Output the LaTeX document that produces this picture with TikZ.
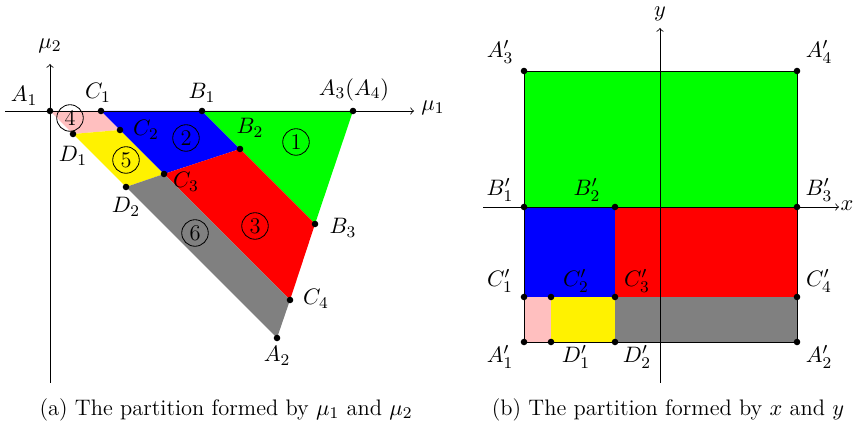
\documentclass[tikz,border=0pt]{standalone}
\begin{document}
\begin{tikzpicture}[x=0.49pt,y=-0.49pt,
  every node/.append style={font=\fontsize{11}{13}\selectfont},
  dot/.style={circle,fill=black,inner sep=0pt,minimum size=3.2pt},
  num/.style={circle,draw=black,inner sep=0pt,minimum size=13pt,thin},
  axis/.style={->,thin}]
\useasboundingbox (0,0) rectangle (854,425);
% ---------- left panel ----------
\coordinate (A1) at (50,111);
\coordinate (C1) at (101,111);
\coordinate (B1) at (202,111);
\coordinate (A3) at (353,111);
\coordinate (B2) at (240,149);
\coordinate (B3) at (315,224);
\coordinate (C4) at (290,300);
\coordinate (A2) at (277,338);
\coordinate (D2) at (126,187);
\coordinate (C3) at (164,174);
\coordinate (C2) at (120,130);
\coordinate (D1) at (73,134);
\fill[pink] (A1) -- (C1) -- (C2) -- (D1) -- cycle;
\fill[yellow] (D1) -- (C2) -- (C3) -- (D2) -- cycle;
\fill[blue] (C1) -- (B1) -- (B2) -- (C3) -- (C2) -- cycle;
\fill[green] (B1) -- (A3) -- (B3) -- (B2) -- cycle;
\fill[red] (C3) -- (B2) -- (B3) -- (C4) -- cycle;
\fill[gray] (D2) -- (C3) -- (C4) -- (A2) -- cycle;
\coordinate (m2b) at (50,383);
\coordinate (m2t) at (50,64);
\coordinate (m1l) at (5,111);
\coordinate (m1r) at (414,111);
\draw[axis] (m2b) -- (m2t);
\draw[axis] (m1l) -- (m1r);
\node (lm2) at (50,46) {$\mu_2$};
\node (lm1) at (433,108) {$\mu_1$};
\foreach \p in {A1,C1,B1,A3,B2,B3,C4,A2,D2,C3,C2,D1} \node[dot] at (\p) {};
\node (lA1) at (24,96) {$A_1$};
\node (lC1) at (98,93) {$C_1$};
\node (lB1) at (202,93) {$B_1$};
\node (lA3) at (354,90) {$A_3(A_4)$};
\node (lB2) at (250,128) {$B_2$};
\node (lC2) at (146,130) {$C_2$};
\node (lD1) at (73,156) {$D_1$};
\node (lC3) at (186,182) {$C_3$};
\node (lD2) at (126,207) {$D_2$};
\node (lB3) at (343,228) {$B_3$};
\node (lC4) at (316,299) {$C_4$};
\node (lA2) at (277,356) {$A_2$};
\node[num] (n1) at (296,142) {1};
\node[num] (n2) at (186,138) {2};
\node[num] (n3) at (255,226) {3};
\node[num] (n4) at (70,118) {4};
\node[num] (n5) at (126,160) {5};
\node[num] (n6) at (195,233) {6};
\node (capa) at (226,410) {(a) The partition formed by $\mu_1$ and $\mu_2$};
% ---------- right panel ----------
\coordinate (pA3) at (524,71);
\coordinate (pA4) at (797,71);
\coordinate (pB1) at (524,207);
\coordinate (pB2) at (615,207);
\coordinate (pB3) at (797,207);
\coordinate (pC1) at (524,297);
\coordinate (pC2) at (551,297);
\coordinate (pC3) at (615,297);
\coordinate (pC4) at (797,297);
\coordinate (pA1) at (524,342);
\coordinate (pD1) at (551,342);
\coordinate (pD2) at (615,342);
\coordinate (pA2) at (797,342);
\fill[green] (pB1) rectangle (pA4);
\fill[blue] (pC1) rectangle (pB2);
\fill[red] (pC3) rectangle (pB3);
\fill[pink] (pA1) rectangle (pC2);
\fill[yellow] (pD1) rectangle (pC3);
\fill[gray] (pD2) rectangle (pC4);
\draw[thin] (pA1) rectangle (pA4);
\coordinate (yb) at (660,383);
\coordinate (yt) at (660,28);
\coordinate (xl) at (483,207);
\coordinate (xr) at (839,207);
\draw[axis] (yb) -- (yt);
\draw[axis] (xl) -- (xr);
\node (ly) at (660,14) {$y$};
\node (lx) at (847,206) {$x$};
\foreach \p in {pA3,pA4,pB1,pB2,pB3,pC1,pC2,pC3,pC4,pA1,pD1,pD2,pA2} \node[dot] at (\p) {};
\node (lpA3) at (500,52) {$A_3'$};
\node (lpA4) at (819,52) {$A_4'$};
\node (lpB1) at (500,190) {$B_1'$};
\node (lpB2) at (587,190) {$B_2'$};
\node (lpB3) at (819,190) {$B_3'$};
\node (lpC1) at (500,281) {$C_1'$};
\node (lpC2) at (576,281) {$C_2'$};
\node (lpC3) at (637,281) {$C_3'$};
\node (lpC4) at (819,281) {$C_4'$};
\node (lpA1) at (500,357) {$A_1'$};
\node (lpD1) at (576,357) {$D_1'$};
\node (lpD2) at (637,357) {$D_2'$};
\node (lpA2) at (819,357) {$A_2'$};
\node (capb) at (668,410) {(b) The partition formed by $x$ and $y$};
\end{tikzpicture}
\end{document}
